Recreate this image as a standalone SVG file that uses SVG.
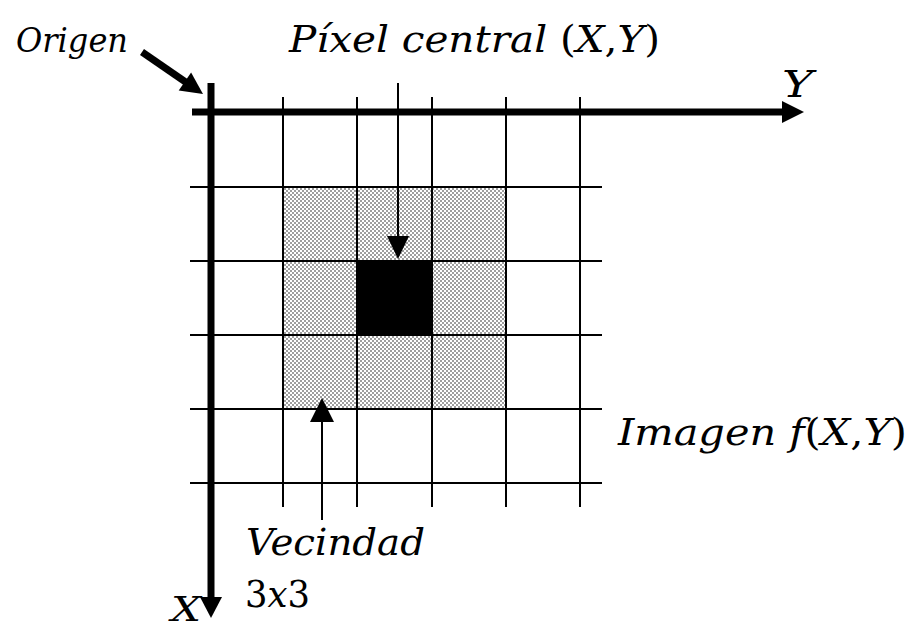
<svg xmlns="http://www.w3.org/2000/svg" width="914" height="628" viewBox="0 0 914 628">
<defs>
<pattern id="dots" width="4" height="4" patternUnits="userSpaceOnUse">
<rect width="4" height="4" fill="#ffffff"/>
<circle cx="1" cy="1" r="0.8" fill="#222"/>
<circle cx="3" cy="3" r="0.8" fill="#222"/>
</pattern>
</defs>
<style>
.grid{stroke:#000;stroke-width:2;fill:none}
.axis{stroke:#000;stroke-width:7;fill:none}
.thin{stroke:#000;stroke-width:2;fill:none}
.head{fill:#000}
text{font-family:"DejaVu Serif","Liberation Serif",serif;fill:#000}
.it{font-style:italic}
.up{font-style:normal}
</style>
<rect width="914" height="628" fill="#fff"/>
<g id="image-grid">
<rect id="neighbourhood" x="283" y="187" width="223" height="222" fill="url(#dots)"/>
<rect id="central-pixel" x="357" y="261" width="75" height="74" fill="#000"/>
<g class="grid">
<line x1="283" y1="97" x2="283" y2="507"/>
<line x1="357" y1="97" x2="357" y2="507"/>
<line x1="432" y1="97" x2="432" y2="507"/>
<line x1="506" y1="97" x2="506" y2="507"/>
<line x1="580" y1="97" x2="580" y2="507"/>
<line x1="190" y1="187" x2="602" y2="187"/>
<line x1="190" y1="261" x2="602" y2="261"/>
<line x1="190" y1="335" x2="602" y2="335"/>
<line x1="190" y1="409" x2="602" y2="409"/>
<line x1="190" y1="483" x2="602" y2="483"/>
</g>
</g>
<g id="connectors">
<line class="axis" x1="192" y1="112" x2="786" y2="112"/>
<polygon class="head" points="782,101 804,112 782,123"/>
<line class="axis" x1="211" y1="83" x2="211" y2="600"/>
<polygon class="head" points="200,597 222,597 211,618"/>
<line class="axis" x1="142" y1="52" x2="187" y2="83"/>
<polygon class="head" points="178.7,90.6 191.1,72.4 203,94"/>
<line class="thin" x1="398" y1="83" x2="398" y2="240"/>
<polygon class="head" points="387,236 409,236 398,259"/>
<line class="thin" x1="322" y1="418" x2="322" y2="520"/>
<polygon class="head" points="310,422 334,422 322,398"/>
</g>
<g id="labels">
<text id="t-origen" class="it" x="16" y="52" font-size="33" textLength="112" lengthAdjust="spacingAndGlyphs">Origen</text>
<text id="t-pixel" x="289" y="52" font-size="38" textLength="371" lengthAdjust="spacingAndGlyphs"><tspan class="it">Píxel central </tspan><tspan class="up">(</tspan><tspan class="it">X</tspan><tspan class="up">,</tspan><tspan class="it">Y</tspan><tspan class="up">)</tspan></text>
<text id="t-y" class="it" x="782" y="97" font-size="38" textLength="31" lengthAdjust="spacingAndGlyphs">Y</text>
<text id="t-imagen" x="618" y="445" font-size="38" textLength="289" lengthAdjust="spacingAndGlyphs"><tspan class="it">Imagen f</tspan><tspan class="up">(</tspan><tspan class="it">X</tspan><tspan class="up">,</tspan><tspan class="it">Y</tspan><tspan class="up">)</tspan></text>
<text id="t-vecindad" class="it" x="246" y="555" font-size="38" textLength="179" lengthAdjust="spacingAndGlyphs">Vecindad</text>
<text id="t-3x3" x="245" y="607" font-size="38" textLength="65" lengthAdjust="spacingAndGlyphs"><tspan class="up">3</tspan><tspan class="it">x</tspan><tspan class="up">3</tspan></text>
<text id="t-x" class="it" x="171" y="621" font-size="34" textLength="30" lengthAdjust="spacingAndGlyphs">X</text>
</g>
</svg>
